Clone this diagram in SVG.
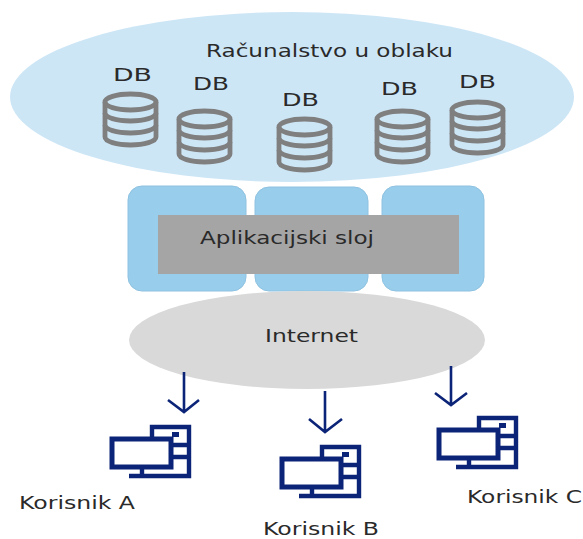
<svg xmlns="http://www.w3.org/2000/svg" width="583" height="539" viewBox="0 0 583 539">
<style>
text{font-family:"DejaVu Sans",sans-serif;font-size:18px;fill:#2a2a2a}
.db{fill:none;stroke:#7f7f7f;stroke-width:4.8}
.blue{fill:#98cdec;stroke:#8fc2e0;stroke-width:1}
.pc{fill:none;stroke:#0c2478;stroke-width:4.4}
.arr{fill:none;stroke:#0c2478;stroke-width:2.6}
</style>
<defs>
<g id="cyl">
<path class="db" d="M2 10A25.500 8 0 0 1 53 10V45A25.500 8 0 0 1 2 45Z"/>
<path class="db" d="M2 10A25.500 8 0 0 0 53 10M2 21A25.500 8 0 0 0 53 21M2 33A25.500 8 0 0 0 53 33"/>
</g>
<g id="comp">
<rect x="2" y="2" width="59" height="28" class="pc" style="stroke-width:5"/>
<path class="pc" d="M42 0V-10H79V39H19M62 8H77M62 20H77M32 31V39M19 39H32"/>
<rect x="62" y="-5" width="7" height="5" fill="#0c2478"/>
</g>
</defs>
<g id="cloud">
<ellipse cx="292" cy="97" rx="282" ry="85" fill="#cde6f6"/>
<text x="206" y="57" textLength="247" lengthAdjust="spacingAndGlyphs">Računalstvo u oblaku</text>
</g>
<g id="db1"><use href="#cyl" x="103" y="92"/><text x="113" y="81" textLength="39" lengthAdjust="spacingAndGlyphs">DB</text></g>
<g id="db2"><use href="#cyl" x="177" y="109"/><text x="193" y="90" textLength="36" lengthAdjust="spacingAndGlyphs">DB</text></g>
<g id="db3"><use href="#cyl" x="277" y="117"/><text x="282" y="106" textLength="37" lengthAdjust="spacingAndGlyphs">DB</text></g>
<g id="db4"><use href="#cyl" x="375" y="109"/><text x="381" y="95" textLength="37" lengthAdjust="spacingAndGlyphs">DB</text></g>
<g id="db5"><use href="#cyl" x="450" y="100"/><text x="459" y="88" textLength="37" lengthAdjust="spacingAndGlyphs">DB</text></g>
<g id="app">
<rect x="128" y="186" width="118" height="105" rx="14" class="blue"/>
<rect x="255" y="187" width="113" height="104" rx="14" class="blue"/>
<rect x="382" y="186" width="102" height="105" rx="14" class="blue"/>
<rect x="158" y="215" width="301" height="59" fill="#a5a5a5"/>
<text x="200" y="244" textLength="174" lengthAdjust="spacingAndGlyphs">Aplikacijski sloj</text>
</g>
<g id="internet">
<ellipse cx="307" cy="340" rx="178" ry="49" fill="#d9d9d9"/>
<text x="265" y="342" textLength="93" lengthAdjust="spacingAndGlyphs">Internet</text>
</g>
<g id="connectors">
<path class="arr" d="M184 372V412M168 400L184 412L199 400"/>
<path class="arr" d="M325 391V432M309 419L325 432L342 419"/>
<path class="arr" d="M451 366V405M435 393L451 405L467 393"/>
</g>
<g id="userA"><use href="#comp" x="110" y="437"/><text x="19" y="509" textLength="116" lengthAdjust="spacingAndGlyphs">Korisnik A</text></g>
<g id="userB"><use href="#comp" x="280" y="457"/><text x="263" y="535" textLength="116" lengthAdjust="spacingAndGlyphs">Korisnik B</text></g>
<g id="userC"><use href="#comp" x="437" y="428"/><text x="467" y="503" textLength="115" lengthAdjust="spacingAndGlyphs">Korisnik C</text></g>
</svg>
